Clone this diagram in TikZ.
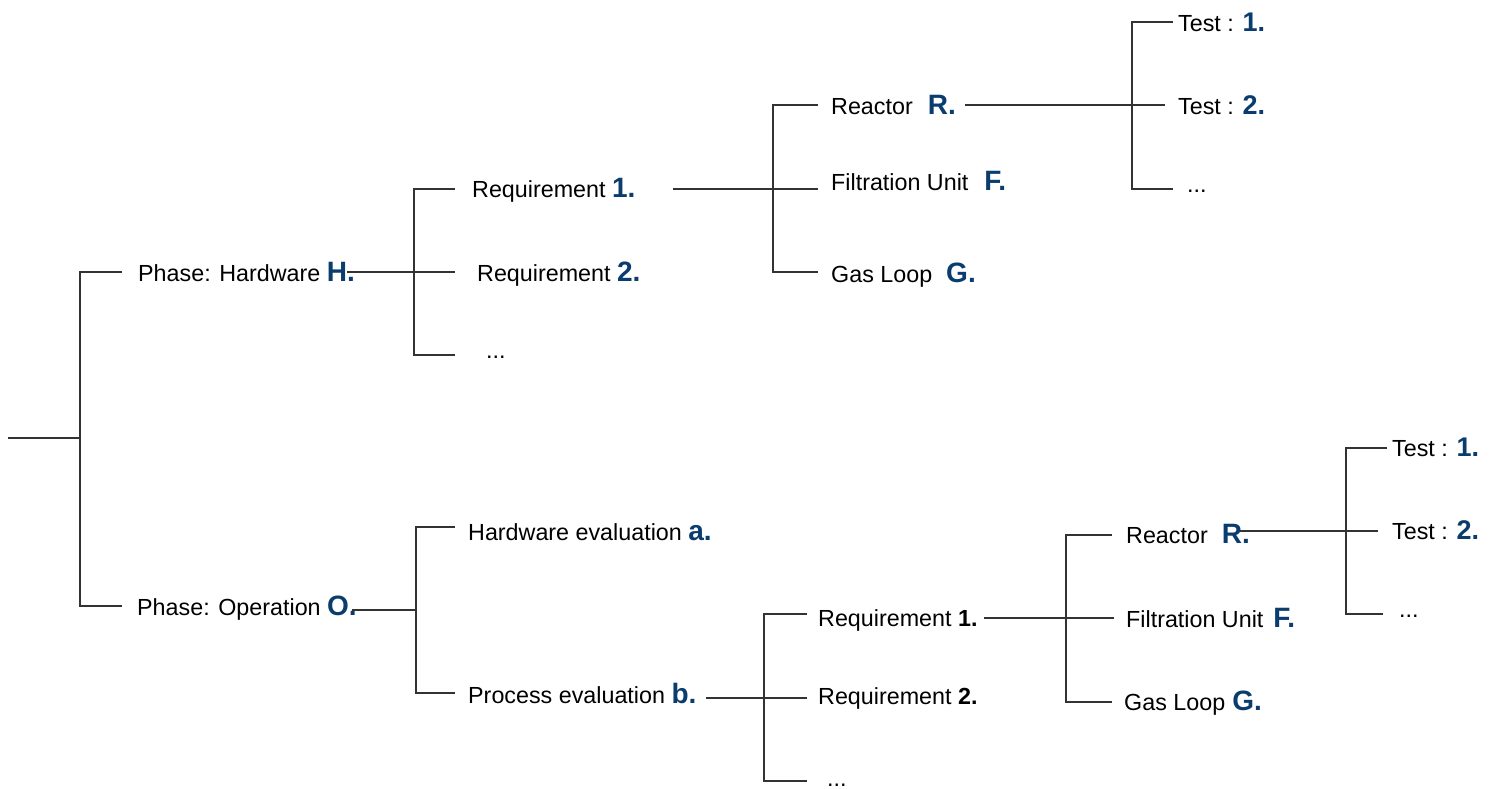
\documentclass[tikz,border=0pt]{standalone}
\usepackage{fontspec}
\setmainfont{Liberation Sans}
\definecolor{navy}{HTML}{0A3C6E}
\newcommand{\myBig}[1]{{\fontsize{28}{30}\selectfont\bfseries\color{navy}#1}}
\newcommand{\myMid}[1]{{\fontsize{27}{30}\selectfont\bfseries\color{navy}#1}}
\newcommand{\myBlk}[1]{{\bfseries #1}}
\tikzset{
  lbl/.style={anchor=base west, inner sep=0pt, font=\fontsize{23.3}{27}\selectfont, text=black},
  conn/.style={draw=black!80, line width=1.1pt},
}
\begin{document}
\begin{tikzpicture}[x=1pt,y=-1pt]
\useasboundingbox (0,0) rectangle (1497,789);
% ---------- labels: upper tree ----------
\node[lbl] (hw)  at (138,281) {Phase: Hardware \myBig{H.}};
\node[lbl] (hr1) at (472,197) {Requirement \myBig{1.}};
\node[lbl] (hr2) at (477,281) {Requirement \myBig{2.}};
\node[lbl] (hrd) at (486,358) {...};
\node[lbl] (hR)  at (831,115) {Reactor\hspace{15pt}\myBig{R.}};
\node[lbl] (hF)  at (831,190) {Filtration Unit\hspace{16pt}\myBig{F.}};
\node[lbl] (hG)  at (831,282) {Gas Loop\hspace{14pt}\myBig{G.}};
\node[lbl] (hT1) at (1178,32)  {Test : \myMid{1.}};
\node[lbl] (hT2) at (1178,115) {Test : \myMid{2.}};
\node[lbl] (hTd) at (1187,193) {...};
% ---------- labels: lower tree ----------
\node[lbl] (op)  at (137,615) {Phase: Operation \myBig{O.}};
\node[lbl] (he)  at (468,540) {Hardware evaluation \myBig{a.}};
\node[lbl] (pe)  at (468,703) {Process evaluation \myBig{b.}};
\node[lbl] (or1) at (818,626) {Requirement \myBlk{1.}};
\node[lbl] (or2) at (818,704) {Requirement \myBlk{2.}};
\node[lbl] (ord) at (827,786) {...};
\node[lbl] (oR)  at (1126,543) {Reactor\hspace{14pt}\myBig{R.}};
\node[lbl] (oF)  at (1126,627) {Filtration Unit\hspace{10pt}\myBig{F.}};
\node[lbl] (oG)  at (1124,710) {Gas Loop\hspace{7pt}\myBig{G.}};
\node[lbl] (oT1) at (1392,456) {Test : \myMid{1.}};
\node[lbl] (oT2) at (1392,539) {Test : \myMid{2.}};
\node[lbl] (oTd) at (1399,617) {...};
% ---------- connector points ----------
\coordinate (r0) at (8,438);   \coordinate (r1) at (80,438);
\coordinate (r1t) at (80,272); \coordinate (r1b) at (80,606);
\coordinate (hwL) at (122,272); \coordinate (opL) at (122,606);
% upper
\coordinate (hwR) at (347,272); \coordinate (b1m) at (455,272);
\coordinate (b1t) at (414,189); \coordinate (b1b) at (414,355);
\coordinate (b1tE) at (455,189); \coordinate (b1bE) at (455,355);
\coordinate (hr1R) at (673,189); \coordinate (c1m) at (818,189);
\coordinate (c1t) at (773,105); \coordinate (c1b) at (773,272);
\coordinate (c1tE) at (818,105); \coordinate (c1bE) at (818,272);
\coordinate (hRR) at (965,105); \coordinate (d1m) at (1165,105);
\coordinate (d1t) at (1132,22); \coordinate (d1b) at (1132,189);
\coordinate (d1tE) at (1173,22); \coordinate (d1bE) at (1173,189);
% lower
\coordinate (opR) at (352,610); \coordinate (b2m) at (416,610);
\coordinate (b2t) at (416,527); \coordinate (b2b) at (416,693);
\coordinate (b2tE) at (455,527); \coordinate (b2bE) at (455,693);
\coordinate (peR) at (706,698); \coordinate (c2m) at (807,698);
\coordinate (c2t) at (764,614); \coordinate (c2b) at (764,781);
\coordinate (c2tE) at (807,614); \coordinate (c2bE) at (807,781);
\coordinate (or1R) at (984,618); \coordinate (d2m) at (1114,618);
\coordinate (d2t) at (1066,535); \coordinate (d2b) at (1066,702);
\coordinate (d2tE) at (1112,535); \coordinate (d2bE) at (1112,702);
\coordinate (oRR) at (1240,531); \coordinate (e2m) at (1378,531);
\coordinate (e2t) at (1346,448); \coordinate (e2b) at (1346,614);
\coordinate (e2tE) at (1387,448); \coordinate (e2bE) at (1383,614);
% ---------- connectors ----------
\draw[conn] (r0) -- (r1);
\draw[conn] (hwL) -- (r1t) -- (r1b) -- (opL);
\draw[conn] (hwR) -- (b1m);
\draw[conn] (b1tE) -- (b1t) -- (b1b) -- (b1bE);
\draw[conn] (hr1R) -- (c1m);
\draw[conn] (c1tE) -- (c1t) -- (c1b) -- (c1bE);
\draw[conn] (hRR) -- (d1m);
\draw[conn] (d1tE) -- (d1t) -- (d1b) -- (d1bE);
\draw[conn] (opR) -- (b2m);
\draw[conn] (b2tE) -- (b2t) -- (b2b) -- (b2bE);
\draw[conn] (peR) -- (c2m);
\draw[conn] (c2tE) -- (c2t) -- (c2b) -- (c2bE);
\draw[conn] (or1R) -- (d2m);
\draw[conn] (d2tE) -- (d2t) -- (d2b) -- (d2bE);
\draw[conn] (oRR) -- (e2m);
\draw[conn] (e2tE) -- (e2t) -- (e2b) -- (e2bE);
\end{tikzpicture}
\end{document}
